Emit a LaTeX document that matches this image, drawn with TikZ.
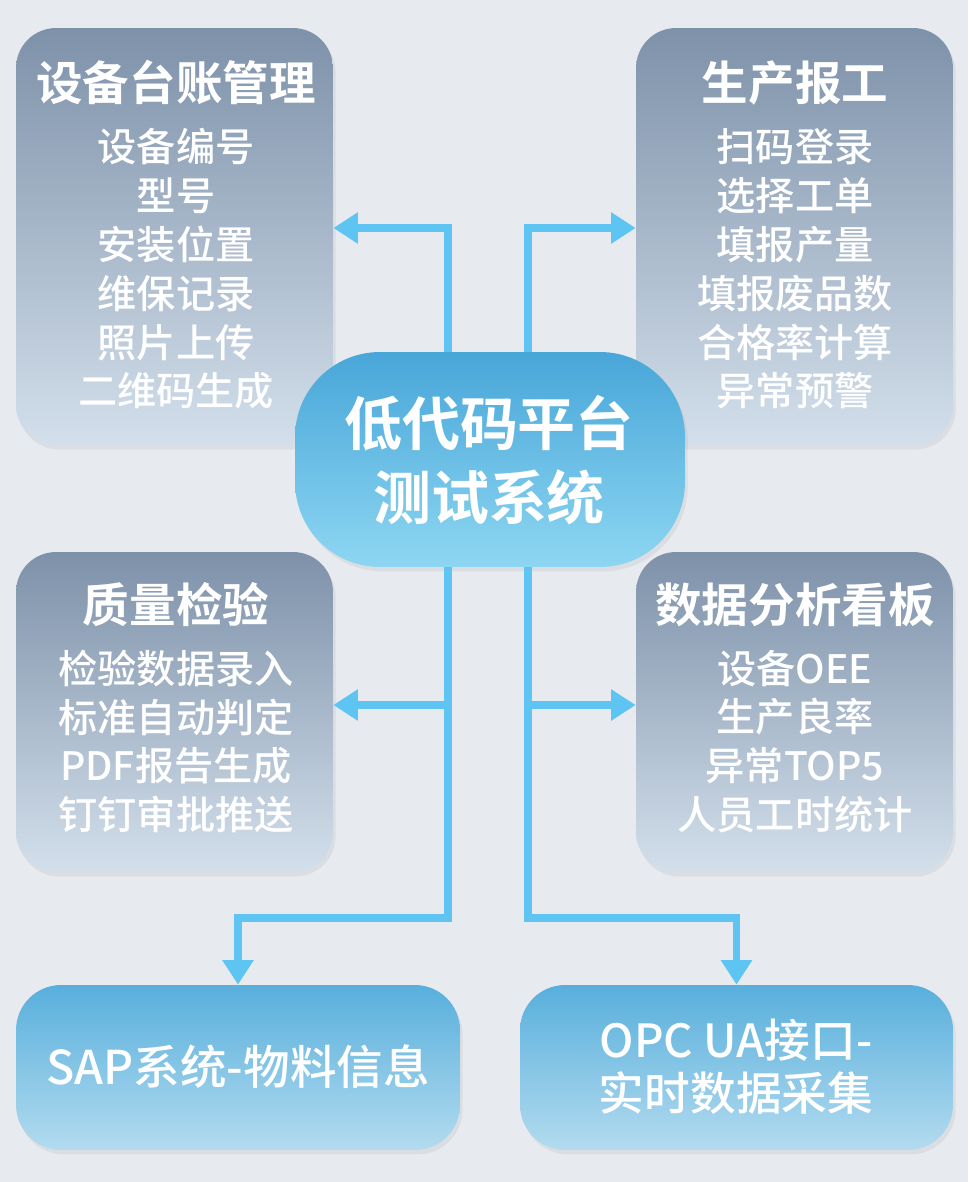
\documentclass[tikz,border=0pt]{standalone}
\usepackage{fontspec}
\setmainfont{Noto Sans CJK SC}[BoldFont={Noto Sans CJK SC Bold}]
\newfontfamily\medfont{Noto Sans CJK SC Medium}
\usetikzlibrary{arrows.meta}
\usetikzlibrary{shadows}

\definecolor{bgcol}{HTML}{E7EBF0}
\definecolor{slatetop}{HTML}{7D91A9}
\definecolor{slatebot}{HTML}{D3DFEB}
\definecolor{hubtop}{HTML}{48A6D8}
\definecolor{hubbot}{HTML}{8DD6F2}
\definecolor{extop}{HTML}{58AFDC}
\definecolor{exbot}{HTML}{B3DBEF}
\definecolor{linkcol}{HTML}{5EC4F1}

\tikzset{
  panel/.style={rectangle,rounded corners=0.8cm,inner sep=0pt,top color=slatetop,bottom color=slatebot,
    drop shadow={opacity=0.12,shadow xshift=1.5pt,shadow yshift=-2.5pt}},
  hubbox/.style={panel,rounded corners=1.7cm,top color=hubtop,bottom color=hubbot},
  extbox/.style={panel,rounded corners=0.9cm,top color=extop,bottom color=exbot},
  head/.style={text=white,inner sep=0pt,font=\bfseries\fontsize{26.5}{30}\selectfont},
  items/.style={text=white,inner sep=0pt,align=center,font=\medfont\fontsize{22.3}{27.8}\selectfont},
  link/.style={draw=linkcol,line width=4pt,-{Triangle[width=17pt,length=14pt]}}
}

\begin{document}
\begin{tikzpicture}[x=0.02cm,y=-0.02cm]
\fill[bgcol] (0,0) rectangle (968,1182);

% modules
\node[panel,minimum width=6.34cm,minimum height=8.34cm] (ledger) at (174.5,236.5) {};
\node[panel,minimum width=6.34cm,minimum height=8.34cm] (report) at (794.5,236.5) {};
\node[panel,minimum width=6.34cm,minimum height=6.4cm] (quality) at (174.5,712) {};
\node[panel,minimum width=6.34cm,minimum height=6.4cm] (board) at (794.5,712) {};
\node[hubbox,minimum width=7.8cm,minimum height=4.3cm] (hub) at (490,459.5) {};
\node[extbox,minimum width=8.88cm,minimum height=3.3cm] (sap) at (238,1067.5) {};
\node[extbox,minimum width=8.66cm,minimum height=3.3cm] (opc) at (736.5,1067.5) {};

\node[head] (ledgerT) at (176,83) {设备台账管理};
\node[items] (ledgerL) at (176,269) {设备编号\\型号\\安装位置\\维保记录\\照片上传\\二维码生成};
\node[head] (reportT) at (795,83) {生产报工};
\node[items] (reportL) at (795,269) {扫码登录\\选择工单\\填报产量\\填报废品数\\合格率计算\\异常预警};
\node[head] (qualityT) at (176,605) {质量检验};
\node[items] (qualityL) at (176,741.5) {检验数据录入\\标准自动判定\\PDF报告生成\\钉钉审批推送};
\node[head] (boardT) at (795,605) {数据分析看板};
\node[items] (boardL) at (795,741.5) {设备OEE\\生产良率\\异常TOP5\\人员工时统计};
\node[text=white,inner sep=0pt,align=center,font=\bfseries\fontsize{33}{42}\selectfont] (hubT) at (489,460) {低代码平台\\测试系统};
\node[text=white,inner sep=0pt,font=\medfont\fontsize{26.5}{30}\selectfont] (sapT) at (238,1067) {SAP系统-物料信息};
\node[text=white,inner sep=0pt,align=center,font=\medfont\fontsize{26}{30}\selectfont] (opcT) at (736,1066.5) {OPC UA接口-\\实时数据采集};

% trunks and bends
\coordinate (trunkL) at (448,0);
\coordinate (trunkR) at (528,0);
\coordinate (upY) at (0,228);
\coordinate (midY) at (0,705);
\coordinate (lowY) at (0,918);

\draw[link] (hub.north -| trunkL) |- (ledger.east |- upY);
\draw[link] (hub.north -| trunkR) |- (report.west |- upY);
\draw[link] (hub.south -| trunkL) |- (quality.east |- midY);
\draw[link] (hub.south -| trunkR) |- (board.west |- midY);
\draw[link] (hub.south -| trunkL) -- (trunkL |- lowY) -| (sap.north);
\draw[link] (hub.south -| trunkR) -- (trunkR |- lowY) -| (opc.north);

\end{tikzpicture}
\end{document}
